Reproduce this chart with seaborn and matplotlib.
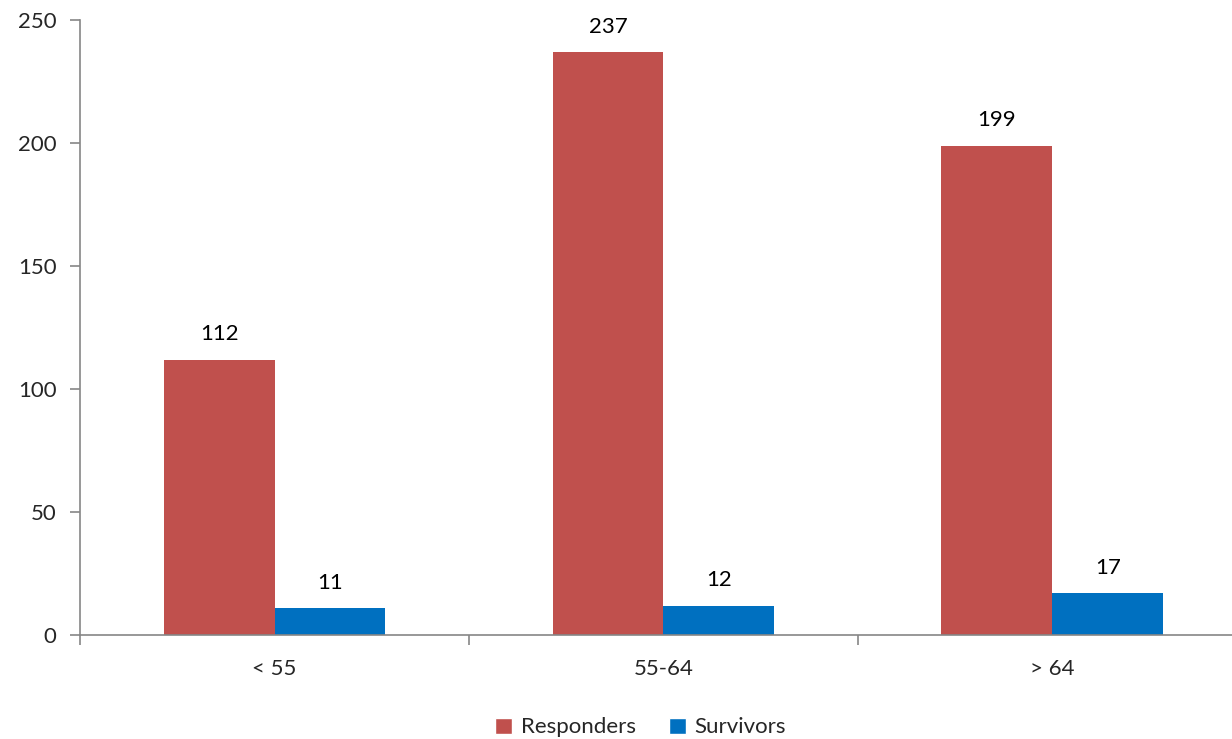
import numpy as np
import pandas as pd
import matplotlib.pyplot as plt
import seaborn as sns
from matplotlib.patches import Patch

# Chart data
age_groups = ['< 55', '55-64', '> 64']
responders = [112, 237, 199]
survivors = [11, 12, 17]
series_names = ['Responders', 'Survivors']
palette = {'Responders': '#C0504D', 'Survivors': '#0070C0'}

df = pd.DataFrame({
    'Age': age_groups * 2,
    'Count': responders + survivors,
    'Group': [series_names[0]] * 3 + [series_names[1]] * 3,
})

sns.set_style("white")
plt.rcParams['font.family'] = ['Lato', 'DejaVu Sans']
fs = 16

fig = plt.figure(figsize=(12.32, 7.39), dpi=100)
ax = fig.add_axes([0.065, 0.1407, 0.947, 0.832])

sns.barplot(data=df, x='Age', y='Count', hue='Group', order=age_groups,
            hue_order=series_names, palette=palette, width=0.57,
            saturation=1, edgecolor='none', ax=ax, legend=False)

for cont in ax.containers:
    ax.bar_label(cont, padding=11, fontsize=fs, color='black')

ax.set_xlim(-0.5, 2.5)
ax.set_ylim(0, 250)
ax.set_yticks(range(0, 251, 50))
ax.set_xlabel('')
ax.set_ylabel('')

grey = '#868686'
for side in ['top', 'right']:
    ax.spines[side].set_visible(False)
for side in ['left', 'bottom']:
    ax.spines[side].set_color(grey)
    ax.spines[side].set_linewidth(1.2)

ax.tick_params(axis='y', left=True, length=7, width=1.2, color=grey,
               labelsize=fs, pad=10, direction='out')
ax.tick_params(axis='x', which='major', bottom=True, length=0, labelsize=fs, pad=17)
ax.set_xticks([0.5, 1.5, 2.5, -0.5], minor=True)
ax.tick_params(axis='x', which='minor', bottom=True, length=7, width=1.2,
               color=grey, direction='out')

handles = [Patch(facecolor=palette[n], label=n) for n in series_names]
fig.legend(handles=handles, loc='lower center', bbox_to_anchor=(0.52, -0.025), ncol=2,
           frameon=False, fontsize=fs, handlelength=0.75, handleheight=0.75,
           handletextpad=0.4, columnspacing=1.5)

fig.savefig('out.png', dpi=100)
